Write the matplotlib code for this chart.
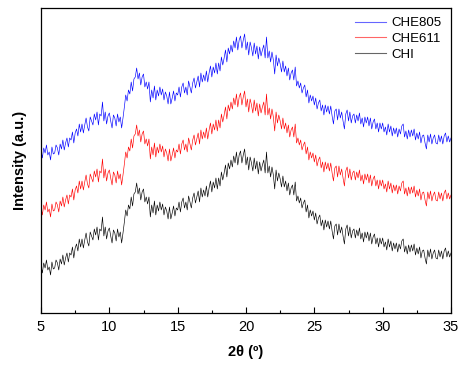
import numpy as np
import matplotlib
matplotlib.use("Agg")
import matplotlib.pyplot as plt
from matplotlib.ticker import MultipleLocator

plt.rcParams["font.family"] = ["Liberation Sans", "DejaVu Sans"]

# 2theta grid, 0.1 degree step from 5 to 35
two_theta = np.round(np.arange(5.0, 35.05, 0.1), 1)

# CHI pattern, intensity (a.u.)
chi = [
    48, 40, 50, 45, 53, 43, 46, 38, 51, 44,
    45, 53, 50, 43, 54, 49, 58, 48, 55, 60,
    51, 60, 58, 66, 55, 65, 69, 62, 74, 66,
    74, 65, 73, 80, 71, 67, 81, 77, 73, 84,
    78, 86, 73, 84, 82, 96, 77, 86, 74, 82,
    85, 77, 70, 83, 80, 72, 84, 76, 81, 70,
    80, 91, 103, 97, 108, 104, 116, 107, 119, 121,
    130, 119, 125, 113, 121, 124, 111, 116, 109, 116,
    96, 108, 100, 112, 98, 108, 102, 111, 103, 109,
    98, 106, 102, 94, 106, 94, 100, 107, 97, 105,
    103, 111, 101, 111, 115, 105, 111, 103, 117, 111,
    105, 115, 120, 110, 116, 122, 111, 125, 116, 123,
    117, 127, 116, 125, 132, 121, 131, 125, 135, 124,
    135, 127, 141, 133, 140, 148, 136, 150, 144, 153,
    146, 157, 150, 161, 148, 158, 162, 150, 158, 164,
    148, 156, 143, 156, 150, 142, 155, 144, 152, 139,
    151, 142, 148, 153, 140, 161, 140, 147, 136, 146,
    138, 124, 143, 132, 140, 134, 126, 137, 126, 132,
    122, 130, 118, 125, 128, 118, 131, 112, 117, 110,
    115, 105, 110, 113, 101, 108, 95, 103, 97, 102,
    93, 100, 89, 95, 98, 87, 93, 83, 93, 86,
    92, 84, 92, 82, 74, 87, 89, 78, 89, 80,
    86, 77, 69, 84, 88, 77, 86, 75, 82, 84,
    75, 83, 77, 85, 74, 80, 71, 81, 75, 81,
    72, 80, 69, 76, 79, 69, 75, 66, 75, 69,
    75, 66, 71, 63, 74, 66, 72, 62, 70, 64,
    70, 61, 69, 64, 72, 74, 61, 67, 59, 68,
    61, 68, 62, 69, 58, 65, 59, 66, 55, 62,
    63, 55, 49, 63, 56, 64, 54, 60, 63, 55,
    54, 63, 56, 62, 54, 62, 65, 56, 62, 56,
    60,
]

# the other two samples are stacked above CHI
labels = ["CHE805", "CHE611", "CHI"]
offsets = [115, 58, 0]
colors = ["#0000ff", "#ff0000", "#000000"]


def main() -> None:
    fig = plt.figure(figsize=(4.68, 3.68), dpi=100)
    ax = fig.add_axes([0.0876, 0.1495, 0.8761, 0.8288])

    base = np.array(chi, dtype=float)
    for label, off, color in zip(labels, offsets, colors):
        ax.plot(two_theta, base + off, color=color, linewidth=0.45, label=label)

    ax.set_xlim(5, 35)
    ax.set_ylim(0, 305)
    ax.xaxis.set_major_locator(MultipleLocator(5))
    ax.xaxis.set_minor_locator(MultipleLocator(2.5))
    ax.set_yticks([])
    ax.tick_params(axis="x", which="major", direction="in", length=4, width=0.8,
                   labelsize=10.5, pad=5)
    ax.tick_params(axis="x", which="minor", direction="in", length=2.5, width=0.8)
    for spine in ax.spines.values():
        spine.set_linewidth(0.9)

    ax.set_xlabel("2θ (º)", fontsize=10.5, fontweight="bold", labelpad=8)
    ax.set_ylabel("Intensity (a.u.)", fontsize=10.5, fontweight="bold", labelpad=10)

    leg = ax.legend(loc="upper right", frameon=False, fontsize=9.5, handlelength=2.4,
                    handletextpad=0.4, labelspacing=0.25, borderaxespad=0.3)
    for line in leg.get_lines():
        line.set_linewidth(0.8)
        line.set_alpha(0.6)

    fig.savefig("out.png", dpi=100)


if __name__ == "__main__":
    main()
